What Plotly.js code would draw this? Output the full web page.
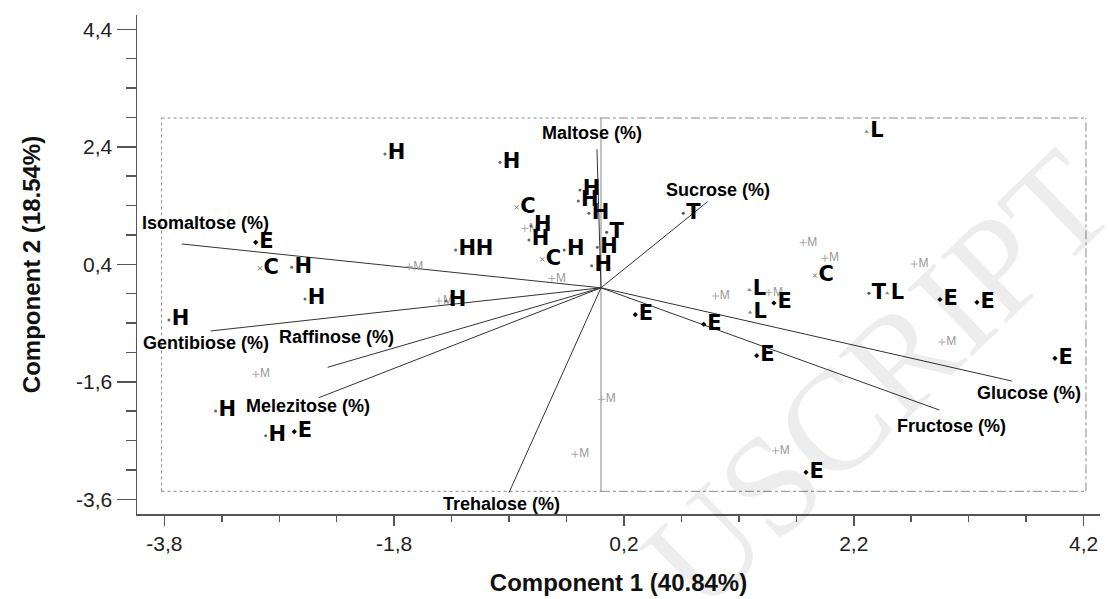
<!DOCTYPE html>
<html><head><meta charset="utf-8">
<script src="https://cdn.plot.ly/plotly-3.0.1.min.js"></script>
<style>html,body{margin:0;padding:0;background:#fff}#chart{width:1109px;height:599px}</style>
</head><body><div id="chart"></div>
<script>
// Sample scores (Component 1, Component 2), grouped by label
const hX = [-1.880, -0.879, -0.183, -0.198, -0.105, -0.609, -0.627, -1.265, -1.114, -0.320, -0.032, -0.081, -1.349, -2.692, -2.576, -3.760, -3.354, -2.918];
const hY = [2.277, 2.136, 1.665, 1.477, 1.268, 1.052, 0.814, 0.643, 0.643, 0.643, 0.689, 0.376, -0.225, 0.349, -0.191, -0.548, -2.097, -2.517];
const cX = [-0.734, -0.511, -2.968, 1.862];
const cY = [1.370, 0.485, 0.332, 0.209];
const eX = [-3.005, -2.669, 0.298, 0.894, 1.505, 2.950, 3.272, 1.355, 3.951, 1.784];
const eY = [0.774, -2.449, -0.458, -0.621, -0.259, -0.199, -0.247, -1.156, -1.200, -3.140];
const lX = [2.312, 1.291, 1.297, 2.492];
const lY = [2.657, -0.037, -0.420, -0.094];
const tX = [0.716, 0.049, 2.332];
const tY = [1.268, 0.945, -0.094];
const mX = [-1.669, -0.427, -1.410, -0.662, 0.006, -0.226, -3.003, 0.998, 1.462, 1.760, 1.949, 2.727, 2.968, 1.520];
const mY = [0.359, 0.158, -0.225, 1.009, -1.898, -2.834, -1.472, -0.140, -0.083, 0.768, 0.502, 0.405, -0.923, -2.773];

// Variable loadings (vector end points)
const loadingNames = ['Maltose (%)', 'Sucrose (%)', 'Isomaltose (%)', 'Gentibiose (%)', 'Raffinose (%)', 'Melezitose (%)', 'Trehalose (%)', 'Glucose (%)', 'Fructose (%)'];
const loadingX = [-0.035, 0.928, -3.649, -3.397, -2.379, -2.455, -0.801, 3.574, 2.944];
const loadingY = [2.357, 1.466, 0.746, -0.735, -1.353, -1.870, -3.488, -1.586, -2.080];

// Tick labels
const xTickVals = [-3.8, -1.8, 0.2, 2.2, 4.2];
const xTickLabels = ['-3,8', '-1,8', '0,2', '2,2', '4,2'];
const yTickVals = [-3.6, -1.6, 0.4, 2.4, 4.4];
const yTickLabels = ['-3,6', '-1,6', '0,4', '2,4', '4,4'];

// ---- styling ----
const labelShift = [[-5, 16], [10, 12], [24, 21], [-5, -12], [9, 30], [-11, -8], [-7, -11], [17, -12], [12, -16]];
const axisColor = '#555';
const sans = 'Liberation Sans, Arial, sans-serif';
const letterFont = {family: 'DejaVu Sans, sans-serif', size: 21, color: '#000', weight: 'bold'};

function rep(s, n) { return Array(n).fill(s); }

const vecX = [], vecY = [];
loadingX.forEach((x, i) => { vecX.push(0, x, null); vecY.push(0, loadingY[i], null); });

const traces = [
  {x: vecX, y: vecY, mode: 'lines', line: {color: '#333', width: 1}, hoverinfo: 'skip'},
  {x: mX, y: mY, mode: 'markers+text', text: rep('M', mX.length), textposition: 'middle right',
   marker: {symbol: 'cross-thin-open', size: 5, line: {color: '#aaa', width: 1}, color: '#aaa'},
   textfont: {family: sans, size: 12, color: '#999'}},
  {x: hX, y: hY, mode: 'markers+text', text: rep('H', hX.length), textposition: 'middle right',
   marker: {symbol: 'circle', size: 3, color: '#666'}, textfont: letterFont},
  {x: cX, y: cY, mode: 'markers+text', text: rep('C', cX.length), textposition: 'middle right',
   marker: {symbol: 'x-thin-open', size: 4, color: '#777', line: {color: '#777', width: 1}}, textfont: letterFont},
  {x: eX, y: eY, mode: 'markers+text', text: rep('E', eX.length), textposition: 'middle right',
   marker: {symbol: 'diamond', size: 4, color: '#000'}, textfont: letterFont},
  {x: lX, y: lY, mode: 'markers+text', text: rep('L', lX.length), textposition: 'middle right',
   marker: {symbol: 'triangle-up', size: 4, color: '#888'}, textfont: letterFont},
  {x: tX, y: tY, mode: 'markers+text', text: rep('T', tX.length), textposition: 'middle right',
   marker: {symbol: 'circle', size: 3, color: '#555'}, textfont: letterFont}
];

const annotations = loadingNames.map((n, i) => ({
  x: loadingX[i], y: loadingY[i], xref: 'x', yref: 'y', text: n, showarrow: false,
  xanchor: 'center', yanchor: 'middle', xshift: labelShift[i][0], yshift: labelShift[i][1],
  font: {family: sans, size: 18, color: '#000', weight: 'bold'}
}));
// faint watermark
annotations.push({
  xref: 'paper', yref: 'paper', x: (878 - 137) / 963, y: (514 - 380) / 499,
  xanchor: 'center', yanchor: 'middle', text: 'USCRIPT', showarrow: false,
  textangle: -44, font: {family: 'Liberation Serif, serif', size: 142, color: 'rgba(0,0,0,0.07)'}
});

const boxL = -3.824, boxR = 4.221, boxB = -3.464, boxT = 2.89;
const boxLine = {color: '#888', width: 1};
const shapes = [
  {type: 'line', x0: boxL, x1: 0, y0: boxT, y1: boxT, line: Object.assign({dash: 'dot'}, boxLine)},
  {type: 'line', x0: boxL, x1: 0, y0: boxB, y1: boxB, line: Object.assign({dash: 'dot'}, boxLine)},
  {type: 'line', x0: boxL, x1: boxL, y0: boxB, y1: boxT, line: Object.assign({dash: 'dot'}, boxLine)},
  {type: 'line', x0: 0, x1: boxR, y0: boxT, y1: boxT, line: Object.assign({dash: 'dashdot'}, boxLine)},
  {type: 'line', x0: 0, x1: boxR, y0: boxB, y1: boxB, line: Object.assign({dash: 'dashdot'}, boxLine)},
  {type: 'line', x0: boxR, x1: boxR, y0: boxB, y1: boxT, line: Object.assign({dash: 'dashdot'}, boxLine)},
  {type: 'line', x0: 0, x1: 0, y0: boxB, y1: boxT, line: {color: '#888', width: 1}}
].map(s => Object.assign({xref: 'x', yref: 'y', layer: 'below'}, s));

const layout = {
  width: 1109, height: 599,
  margin: {l: 137, r: 9, t: 15, b: 85},
  paper_bgcolor: '#fff', plot_bgcolor: '#fff',
  showlegend: false, hovermode: false,
  xaxis: {
    range: [-4.038, 4.343], showgrid: false, zeroline: false,
    showline: true, linecolor: axisColor, linewidth: 1.5,
    ticks: 'outside', ticklen: 10, tickwidth: 1.5, tickcolor: axisColor,
    tickmode: 'array', tickvals: xTickVals, ticktext: xTickLabels,
    minor: {tickmode: 'linear', tick0: 0.2, dtick: 0.5, ticks: 'outside', ticklen: 6, tickwidth: 1.5, tickcolor: axisColor},
    tickfont: {family: sans, size: 21, color: '#222'},
    title: {text: 'Component 1 (40.84%)', font: {family: sans, size: 24, color: '#111', weight: 'bold'}, standoff: 20}
  },
  yaxis: {
    range: [-3.85, 4.643], showgrid: false, zeroline: false,
    showline: true, linecolor: axisColor, linewidth: 1.5,
    ticks: 'outside', ticklen: 19, tickwidth: 1.5, tickcolor: axisColor,
    tickmode: 'array', tickvals: yTickVals, ticktext: yTickLabels,
    minor: {tickmode: 'linear', tick0: 0.4, dtick: 0.5, ticks: 'outside', ticklen: 10, tickwidth: 1.5, tickcolor: axisColor},
    tickfont: {family: sans, size: 21, color: '#222'},
    title: {text: 'Component 2 (18.54%)', font: {family: sans, size: 24, color: '#111', weight: 'bold'}, standoff: 28}
  },
  annotations: annotations,
  shapes: shapes
};

Plotly.newPlot('chart', traces, layout, {staticPlot: true, displayModeBar: false});
</script>
</body></html>
